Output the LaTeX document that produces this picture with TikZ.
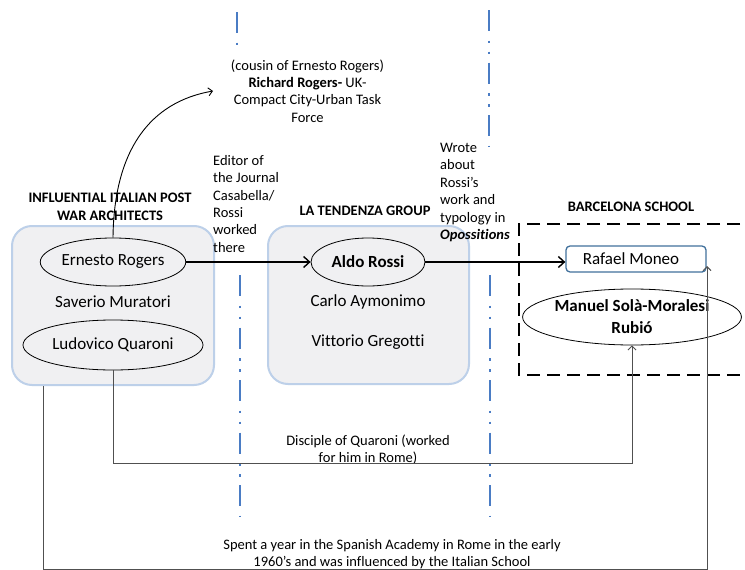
\documentclass[tikz,border=0pt]{standalone}
\usepackage{fontspec}
\setmainfont{Carlito}[Ligatures=NoCommon]
\usetikzlibrary{shapes.geometric,arrows.meta,calc}
\definecolor{boxfill}{HTML}{F0F0F2}
\definecolor{boxline}{HTML}{BDD0E9}
\definecolor{dashblue}{HTML}{4A7CC4}
\definecolor{rmline}{HTML}{41719C}
\definecolor{conn}{HTML}{505050}
\tikzset{
 main/.style={font=\fontsize{17}{20}\selectfont},
 small/.style={font=\fontsize{14.5}{17.4}\selectfont},
 grouptitle/.style={font=\bfseries\fontsize{14.5}{18}\selectfont, align=center},
 groupbox/.style={draw=boxline, line width=2pt, fill=boxfill, rounded corners=20pt, inner sep=0pt},
 person/.style={ellipse, draw=black, line width=0.8pt, inner sep=0pt, main},
 sepline/.style={draw=dashblue, line width=2.5pt, dash pattern=on 21pt off 9.5pt on 2.5pt off 8.5pt on 2.5pt off 8.5pt},
 bigarrow/.style={line width=1.4pt, -{Straight Barb[length=6pt,width=11pt]}},
 thinarrow/.style={draw=conn, line width=0.9pt, -{Straight Barb[length=4pt,width=8pt]}},
}
\begin{document}
\begin{tikzpicture}[x=1pt,y=-1pt]
\useasboundingbox[fill=white] (0,0) rectangle (745,570);

% separators
\draw[sepline] (237,12) -- (237,46);
\draw[sepline] (489,10) -- (489,147);
\draw[sepline] (240,275) -- (240,517);
\draw[sepline] (490,275) -- (490,517);

% group boxes
\node[groupbox, minimum width=202pt, minimum height=159pt] (box1) at (113,305.5) {};
\node[groupbox, minimum width=201pt, minimum height=158pt] (box2) at (368.5,305) {};
\draw[black, line width=2.8pt, dash pattern=on 13pt off 7pt] (760,224) -- (519,224) -- (519,375) -- (760,375);

% titles
\node[grouptitle] (t1) at (110,207) {INFLUENTIAL ITALIAN POST\\WAR ARCHITECTS};
\node[grouptitle] (t2) at (365,211) {LA TENDENZA GROUP};
\node[grouptitle] (t3) at (631,207) {BARCELONA SCHOOL};

% people
\node[person, fill=boxfill, minimum width=117pt, minimum height=48pt] (er) at (113,262) {Ernesto Rogers};
\node[main] (sm) at (113,302) {Saverio Muratori};
\node[person, fill=boxfill, minimum width=180pt, minimum height=50pt] (lq) at (113,345) {Ludovico Quaroni};

\node[person, fill=boxfill, font=\bfseries\fontsize{17}{20}\selectfont, minimum width=114pt, minimum height=48pt] (ar) at (368,262) {Aldo Rossi};
\node[main] (ca) at (368,302) {Carlo Aymonimo};
\node[main] (vg) at (368,342) {Vittorio Gregotti};

\node[draw=rmline, fill=white, line width=1.3pt, rounded corners=4pt, minimum width=140pt, minimum height=26pt, inner sep=0pt, main] (rm) at (636,259) {Rafael Moneo\hspace*{10pt}};
\node[person, fill=white, align=center, font=\bfseries\fontsize{17}{22}\selectfont, minimum width=195pt, minimum height=56pt] (ms) at (632,317) {Manuel Solà-Moralesi\\Rubió};

% labels
\node[small, align=center] (rr) at (307.5,91) {(cousin of Ernesto Rogers)\\\textbf{Richard Rogers-} UK-\\Compact City-Urban Task\\Force};
\node[small, align=left, anchor=north west, inner sep=0pt] (ed) at (213,155) {Editor of\\the Journal\\Casabella/\\Rossi\\worked\\there};
\node[small, align=left, anchor=north west, inner sep=0pt] (wr) at (440,143) {Wrote\\about\\Rossi’s\\work and\\typology in\\\textbf{\textit{Opossitions}}};
\node[small, align=center] (dq) at (368,450) {Disciple of Quaroni (worked\\for him in Rome)};
\node[small, align=center] (sy) at (392,554) {Spent a year in the Spanish Academy in Rome in the early\\1960’s and was influenced by the Italian School};

% connectors
\draw[bigarrow] (er.east) -- (ar.west);
\draw[bigarrow] (ar.east) -- (ar.east -| rm.west);

\coordinate (rrtip) at (213,91);
\draw[thinarrow, draw=black] (er.north) .. controls (114,150) and (150,102) .. (rrtip);

\coordinate (dq1) at (113,463);
\draw[thinarrow] (lq.south) -- (lq.south |- dq1) -| (ms.south);

\coordinate (sp1) at (43,569);
\coordinate (rmtip) at (707,266);
\draw[thinarrow] (box1.south -| sp1) -- (sp1) -| (rmtip);
\end{tikzpicture}
\end{document}
